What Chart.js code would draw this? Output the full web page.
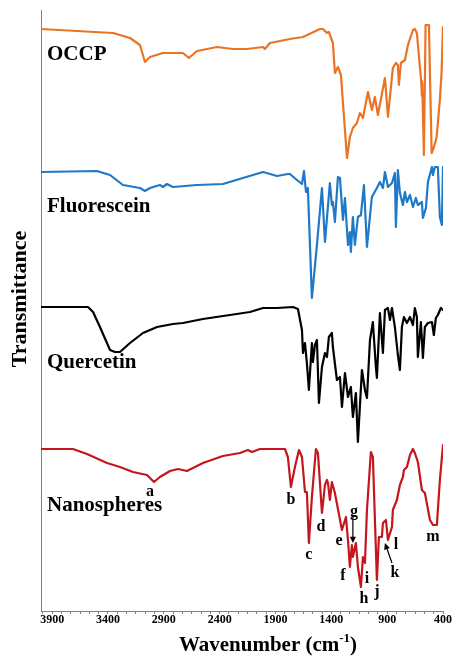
<!DOCTYPE html>
<html>
<head>
<meta charset="utf-8">
<script src="https://cdn.jsdelivr.net/npm/chart.js@4.4.1/dist/chart.umd.min.js"></script>
<style>
  html, body { margin: 0; padding: 0; background: #fff; }
  #wrap { width: 453px; height: 656px; }
</style>
</head>
<body>
<div id="wrap"><canvas id="ftir"></canvas></div>
<script>
// Spectra: wavenumber (cm-1) and stacked transmittance (a.u.)
const occpWn = [4000, 3355, 3203, 3114, 3069, 3024, 2908, 2729, 2675, 2603, 2424, 2281, 2156, 2012, 1995, 1950, 1771, 1654, 1502, 1475, 1439, 1422, 1386, 1368, 1341, 1314, 1260, 1234, 1207, 1171, 1144, 1117, 1072, 1037, 1010, 983, 920, 893, 849, 822, 804, 795, 777, 741, 714, 669, 652, 634, 607, 595, 589, 586, 571, 556, 526, 508, 502, 481, 457, 428, 413, 400];
const occpT = [582, 578, 573, 566, 549, 554, 558, 558, 553, 560, 564, 562, 562, 564, 562, 568, 572, 574, 582, 582, 578, 579, 568, 538, 544, 536, 453, 474, 483, 488, 498, 493, 519, 501, 514, 496, 533, 494, 543, 548, 546, 526, 548, 551, 566, 581, 582, 578, 544, 530, 515, 528, 456, 586, 586, 491, 458, 464, 474, 511, 538, 584];

const fluoWn = [4000, 3499, 3382, 3266, 3114, 3069, 3024, 2935, 2908, 2872, 2818, 2603, 2371, 2192, 2012, 1887, 1789, 1771, 1708, 1663, 1645, 1627, 1610, 1574, 1529, 1484, 1457, 1413, 1395, 1386, 1368, 1341, 1323, 1296, 1278, 1251, 1234, 1225, 1207, 1189, 1162, 1135, 1108, 1081, 1037, 992, 965, 938, 920, 893, 857, 831, 822, 804, 786, 759, 741, 723, 696, 669, 643, 625, 589, 580, 553, 535, 499, 490, 473, 446, 428, 410, 400];
const fluoT = [439, 440, 436, 426, 423, 420, 423, 426, 424, 427, 424, 426, 427, 433, 439, 435, 437, 437, 431, 427, 440, 419, 423, 313, 366, 423, 369, 428, 406, 409, 389, 434, 433, 391, 413, 366, 379, 359, 394, 366, 394, 396, 426, 364, 414, 423, 429, 423, 439, 424, 428, 438, 384, 441, 418, 406, 419, 409, 416, 404, 413, 406, 409, 393, 403, 429, 444, 436, 444, 444, 394, 386, 444];

const querWn = [4000, 3579, 3534, 3472, 3382, 3337, 3293, 3203, 3087, 2961, 2818, 2729, 2550, 2308, 2129, 2012, 1887, 1744, 1699, 1663, 1654, 1636, 1619, 1601, 1574, 1565, 1547, 1529, 1511, 1484, 1457, 1439, 1422, 1395, 1386, 1350, 1323, 1305, 1278, 1251, 1225, 1207, 1180, 1162, 1126, 1099, 1081, 1054, 1028, 1001, 992, 965, 938, 920, 893, 875, 857, 831, 804, 786, 768, 750, 723, 696, 669, 652, 634, 625, 598, 580, 562, 535, 499, 482, 464, 446, 419, 400];
const querT = [304, 304, 299, 284, 261, 259, 259, 268, 278, 284, 287, 288, 292, 296, 299, 303, 303, 304, 302, 281, 258, 268, 248, 221, 268, 249, 266, 271, 208, 244, 258, 254, 274, 278, 264, 231, 234, 204, 238, 214, 224, 194, 218, 169, 241, 221, 213, 271, 289, 244, 233, 298, 258, 301, 303, 291, 303, 284, 256, 241, 284, 294, 288, 294, 286, 303, 294, 254, 289, 253, 284, 288, 289, 276, 293, 296, 303, 301];

const nanoWn = [4000, 3714, 3588, 3409, 3293, 3176, 3051, 2988, 2935, 2845, 2773, 2693, 2550, 2371, 2218, 2147, 2111, 2039, 1815, 1789, 1762, 1726, 1690, 1663, 1636, 1619, 1601, 1574, 1538, 1520, 1484, 1457, 1439, 1430, 1413, 1395, 1368, 1305, 1269, 1251, 1234, 1216, 1207, 1180, 1162, 1135, 1117, 1099, 1081, 1046, 1028, 992, 974, 947, 938, 911, 893, 857, 849, 813, 786, 759, 750, 723, 696, 669, 652, 625, 589, 562, 517, 490, 455, 428, 400];
const nanoT = [162, 162, 157, 148, 144, 139, 136, 129, 134, 140, 142, 140, 148, 155, 158, 161, 159, 162, 162, 154, 124, 144, 161, 154, 119, 119, 68, 114, 162, 158, 98, 126, 131, 128, 111, 129, 118, 81, 94, 71, 44, 66, 54, 68, 44, 24, 54, 48, 101, 159, 154, 31, 74, 74, 88, 91, 71, 84, 101, 111, 126, 134, 141, 144, 156, 162, 158, 149, 121, 118, 91, 86, 86, 131, 166];

// Sample names and where they sit (wavenumber, a.u.)
const seriesNames = ['OCCP', 'Fluorescein', 'Quercetin', 'Nanospheres'];
const nameWn = 3946;
const nameT = [556, 404, 248, 105];

// Peak letters on the nanosphere spectrum
const peakLetters = ['a', 'b', 'c', 'd', 'e', 'f', 'g', 'h', 'i', 'j', 'k', 'l', 'm'];
const peakWn = [3024, 1762, 1601, 1493, 1332, 1296, 1198, 1108, 1081, 992, 831, 822, 490];
const peakT = [119, 111, 56, 84, 70, 35, 99, 12, 32, 19, 38, 66, 74];

// Arrows for g and k: [fromWn, fromT, toWn, toT]
const arrows = [[1207, 94, 1207, 68], [857, 48, 920, 68]];

const xTickLabels = [3900, 3400, 2900, 2400, 1900, 1400, 900, 400];
const tickStep = 500 / 6;

const SERIF = '"Liberation Serif", "Times New Roman", serif';
const AXIS_GREY = '#808080';

const toPoints = (wn, t) => wn.map((x, i) => ({ x: x, y: t[i] }));

const tickValues = [];
for (let i = -1; i <= 42; i++) tickValues.push(3900 - i * tickStep);

const labelPlugin = {
  id: 'peakLabels',
  afterDatasetsDraw(chart) {
    const { ctx, scales: { x, y } } = chart;
    ctx.save();
    ctx.fillStyle = '#000';
    ctx.strokeStyle = '#000';
    ctx.textBaseline = 'middle';

    ctx.font = 'bold 21px ' + SERIF;
    ctx.textAlign = 'left';
    seriesNames.forEach((name, i) => {
      ctx.fillText(name, x.getPixelForValue(nameWn), y.getPixelForValue(nameT[i]));
    });

    ctx.font = 'bold 16px ' + SERIF;
    ctx.textAlign = 'center';
    peakLetters.forEach((letter, i) => {
      ctx.fillText(letter, x.getPixelForValue(peakWn[i]), y.getPixelForValue(peakT[i]));
    });

    ctx.lineWidth = 1.2;
    arrows.forEach(a => {
      const x0 = x.getPixelForValue(a[0]), y0 = y.getPixelForValue(a[1]);
      const x1 = x.getPixelForValue(a[2]), y1 = y.getPixelForValue(a[3]);
      const ang = Math.atan2(y1 - y0, x1 - x0);
      const head = 7;
      ctx.beginPath();
      ctx.moveTo(x0, y0);
      ctx.lineTo(x1 - Math.cos(ang) * head * 0.8, y1 - Math.sin(ang) * head * 0.8);
      ctx.stroke();
      ctx.beginPath();
      ctx.moveTo(x1, y1);
      ctx.lineTo(x1 - head * Math.cos(ang - 0.45), y1 - head * Math.sin(ang - 0.45));
      ctx.lineTo(x1 - head * Math.cos(ang + 0.45), y1 - head * Math.sin(ang + 0.45));
      ctx.closePath();
      ctx.fill();
    });

    // axis titles (x title has a superscript, so both are drawn here)
    ctx.textAlign = 'left';
    const main = 'bold 21px ' + SERIF, sup = 'bold 13px ' + SERIF;
    const parts = [['Wavenumber (cm', main, 0], ['-1', sup, -7], [')', main, 0]];
    let total = 0;
    parts.forEach(p => { ctx.font = p[1]; total += ctx.measureText(p[0]).width; });
    let tx = 268 - total / 2;
    parts.forEach(p => {
      ctx.font = p[1];
      ctx.fillText(p[0], tx, 646 + p[2]);
      tx += ctx.measureText(p[0]).width;
    });

    ctx.translate(20, 299);
    ctx.rotate(-Math.PI / 2);
    ctx.textAlign = 'center';
    ctx.font = 'bold 22px ' + SERIF;
    ctx.fillText('Transmittance', 0, 0);
    ctx.restore();
  }
};

new Chart(document.getElementById('ftir'), {
  type: 'line',
  data: {
    datasets: [
      { label: 'OCCP', data: toPoints(occpWn, occpT), borderColor: '#EB7424' },
      { label: 'Fluorescein', data: toPoints(fluoWn, fluoT), borderColor: '#1F78C8' },
      { label: 'Quercetin', data: toPoints(querWn, querT), borderColor: '#000000' },
      { label: 'Nanospheres', data: toPoints(nanoWn, nanoT), borderColor: '#C4161C' }
    ]
  },
  options: {
    responsive: true,
    maintainAspectRatio: false,
    animation: false,
    layout: { padding: { top: 10, right: 10, left: 0, bottom: 0 } },
    plugins: { legend: { display: false }, tooltip: { enabled: false } },
    elements: {
      point: { radius: 0 },
      line: { tension: 0, borderWidth: 2.2, fill: false, borderJoinStyle: 'round', borderCapStyle: 'round' }
    },
    scales: {
      x: {
        type: 'linear',
        reverse: true,
        min: 400,
        max: 4000,
        afterBuildTicks: s => { s.ticks = tickValues.map(v => ({ value: v })); },
        afterFit: s => { s.height = 45; },
        grid: { display: true, drawOnChartArea: false, drawTicks: true, tickLength: 3, color: AXIS_GREY },
        border: { display: true, color: AXIS_GREY, width: 1 },
        ticks: {
          autoSkip: false,
          maxRotation: 0,
          padding: -1,
          color: '#000',
          font: { family: SERIF, size: 12, weight: 'bold' },
          callback: v => xTickLabels.includes(Math.round(v)) ? String(Math.round(v)) : ''
        },
        title: { display: false }
      },
      y: {
        min: 0,
        max: 601,
        afterFit: s => { s.width = 41; },
        grid: { display: false },
        border: { display: true, color: AXIS_GREY, width: 1 },
        ticks: { display: false },
        title: { display: false }
      }
    }
  },
  plugins: [labelPlugin]
});
</script>
</body>
</html>
